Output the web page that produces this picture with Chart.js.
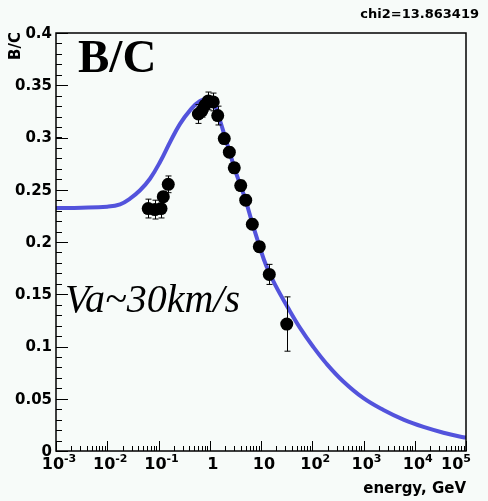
<!DOCTYPE html>
<html><head><meta charset="utf-8">
<script src="https://cdn.jsdelivr.net/npm/chart.js@4/dist/chart.umd.min.js"></script>
<style>html,body{margin:0;padding:0;background:#f7fbf9;}</style>
</head><body>
<canvas id="c" width="488" height="501" style="display:block;width:488px;height:501px"></canvas>
<script>
// Model curve (energy in GeV, B/C ratio)
const curveE = [0.001, 0.00316, 0.01, 0.0178, 0.0278, 0.0437, 0.0682, 0.107, 0.1675, 0.263, 0.412, 0.646, 1, 1.26, 1.58, 2.0, 2.51, 3.16, 3.98, 5.01, 6.76, 9.27, 12.6, 18.7, 34.1, 57.7, 105, 190, 404, 1000, 2450, 6030, 14800, 36300, 89100, 100000];
const curveV = [0.2325, 0.2328, 0.2338, 0.2360, 0.2415, 0.2495, 0.2605, 0.2765, 0.2955, 0.3130, 0.3260, 0.3350, 0.337, 0.3305, 0.3165, 0.300, 0.284, 0.268, 0.254, 0.240, 0.218, 0.1965, 0.1775, 0.1595, 0.1365, 0.1178, 0.0995, 0.0835, 0.0665, 0.0505, 0.0392, 0.0300, 0.0230, 0.0175, 0.0131, 0.0128];
// Measured data points
const dataE = [0.063, 0.085, 0.112, 0.124, 0.155, 0.60, 0.70, 0.81, 0.94, 1.17, 1.43, 1.92, 2.41, 3.01, 4.02, 5.03, 6.77, 9.27, 14.5, 31.8];
const dataV = [0.232, 0.231, 0.232, 0.2434, 0.2552, 0.3225, 0.3255, 0.331, 0.335, 0.334, 0.321, 0.299, 0.286, 0.271, 0.254, 0.240, 0.217, 0.1955, 0.169, 0.1215];
const dataErr = [0.009, 0.009, 0.009, 0.005, 0.008, 0.009, 0.006, 0.006, 0.0085, 0.0085, 0.009, 0.005, 0.005, 0.005, 0.005, 0.005, 0.005, 0.005, 0.0096, 0.026];
// Axis ticks
const xMajorTicks = [0.001, 0.01, 0.1, 1, 10, 100, 1000, 10000, 100000];
const xTickBase = ['10', '10', '10', '1', '10', '10', '10', '10', '10'];
const xTickExp = ['-3', '-2', '-1', '', '', '2', '3', '4', '5'];
const xMinorMult = [2, 3, 4, 5, 6, 7, 8, 9];
const yMajorTicks = [0, 0.05, 0.1, 0.15, 0.2, 0.25, 0.3, 0.35, 0.4];
const yTickLabels = ['0', '0.05', '0.1', '0.15', '0.2', '0.25', '0.3', '0.35', '0.4'];
const yMinorStep = 0.01;

const BG = '#f7fbf9';
const SANS = '"DejaVu Sans", sans-serif';

const bgPlugin = {
  id: 'bg',
  beforeDraw(chart) {
    const c = chart.ctx;
    c.save(); c.fillStyle = BG; c.fillRect(0, 0, chart.width, chart.height); c.restore();
  }
};

const errPlugin = {
  id: 'err',
  afterDatasetsDraw(chart) {
    const c = chart.ctx, xs = chart.scales.x, ys = chart.scales.y;
    c.save(); c.strokeStyle = '#000'; c.lineWidth = 1;
    dataE.forEach((e, i) => {
      const px = Math.round(xs.getPixelForValue(e)) + 0.5;
      const y1 = ys.getPixelForValue(dataV[i] + dataErr[i]);
      const y2 = ys.getPixelForValue(dataV[i] - dataErr[i]);
      c.beginPath();
      c.moveTo(px, y1); c.lineTo(px, y2);
      c.moveTo(px - 3, y1); c.lineTo(px + 3, y1);
      c.moveTo(px - 3, y2); c.lineTo(px + 3, y2);
      c.stroke();
    });
    c.restore();
  }
};

const axesPlugin = {
  id: 'axes',
  afterDraw(chart) {
    const c = chart.ctx, a = chart.chartArea, xs = chart.scales.x, ys = chart.scales.y;
    c.save();
    c.strokeStyle = '#000'; c.lineWidth = 1.5;
    c.strokeRect(a.left, a.top, a.right - a.left, a.bottom - a.top);
    c.lineWidth = 1;
    c.beginPath();
    for (let v = 0; v <= 0.4001; v += yMinorStep) {
      const py = Math.round(ys.getPixelForValue(v)) + 0.5;
      c.moveTo(a.left, py); c.lineTo(a.left + 6, py);
    }
    yMajorTicks.forEach(v => {
      const py = Math.round(ys.getPixelForValue(v)) + 0.5;
      c.moveTo(a.left, py); c.lineTo(a.left + 12, py);
    });
    xMajorTicks.forEach((v, i) => {
      const px = Math.round(xs.getPixelForValue(v)) + 0.5;
      c.moveTo(px, a.bottom); c.lineTo(px, a.bottom - 10);
      if (i < xMajorTicks.length - 1) {
        xMinorMult.forEach(m => {
          const qx = Math.round(xs.getPixelForValue(v * m)) + 0.5;
          c.moveTo(qx, a.bottom); c.lineTo(qx, a.bottom - 5);
        });
      }
    });
    c.stroke();

    c.fillStyle = '#000';
    c.font = 'bold 15px ' + SANS; c.textAlign = 'right'; c.textBaseline = 'middle';
    yMajorTicks.forEach((v, i) => {
      c.fillText(yTickLabels[i], a.left - 4, ys.getPixelForValue(v) + 1);
    });
    c.textBaseline = 'alphabetic'; c.textAlign = 'left';
    xMajorTicks.forEach((v, i) => {
      const px = xs.getPixelForValue(v);
      c.font = 'bold 16px ' + SANS;
      const wb = c.measureText(xTickBase[i]).width;
      c.font = 'bold 11px ' + SANS;
      const we = xTickExp[i] ? c.measureText(xTickExp[i]).width : 0;
      let left = px + 3 - (wb + we) / 2;
      if (left + wb + we > 471) left = 471 - wb - we;
      c.font = 'bold 16px ' + SANS;
      c.fillText(xTickBase[i], left, 469);
      if (xTickExp[i]) { c.font = 'bold 11px ' + SANS; c.fillText(xTickExp[i], left + wb, 462); }
    });
    c.font = 'bold 15px ' + SANS; c.textAlign = 'right';
    c.fillText('energy, GeV', 466, 493);
    c.save(); c.translate(20, 32); c.rotate(-Math.PI / 2);
    c.font = 'bold 15px ' + SANS; c.textAlign = 'right'; c.fillText('B/C', 0, 0);
    c.restore();
    c.textAlign = 'left';
    c.font = 'bold 47px "Liberation Serif", serif';
    c.fillText('B/C', 78, 72);
    c.font = 'italic 40px "Liberation Serif", serif';
    c.fillText('Va~30km/s', 65, 312);
    c.save();
    c.beginPath(); c.rect(0, 8, chart.width, 20); c.clip();
    c.font = 'bold 13px ' + SANS; c.textAlign = 'right';
    c.fillText('chi2=13.863419', 479, 18);
    c.restore();
    c.restore();
  }
};

new Chart(document.getElementById('c').getContext('2d'), {
  type: 'scatter',
  data: {
    datasets: [
      { type: 'line', data: curveE.map((e, i) => ({ x: e, y: curveV[i] })), borderColor: '#5353dc', borderWidth: 4,
        pointRadius: 0, tension: 0.4, fill: false, order: 2 },
      { data: dataE.map((e, i) => ({ x: e, y: dataV[i] })), backgroundColor: '#000', borderColor: '#000',
        pointRadius: 6.5, borderWidth: 0, order: 1 }
    ]
  },
  options: {
    responsive: false, animation: false, devicePixelRatio: 1,
    layout: { padding: { left: 56, top: 33, right: 22, bottom: 50 } },
    plugins: { legend: { display: false }, tooltip: { enabled: false } },
    scales: {
      x: { type: 'logarithmic', min: 1e-3, max: 1e5, display: false },
      y: { type: 'linear', min: 0, max: 0.4, display: false }
    }
  },
  plugins: [bgPlugin, errPlugin, axesPlugin]
});
</script>
</body></html>
